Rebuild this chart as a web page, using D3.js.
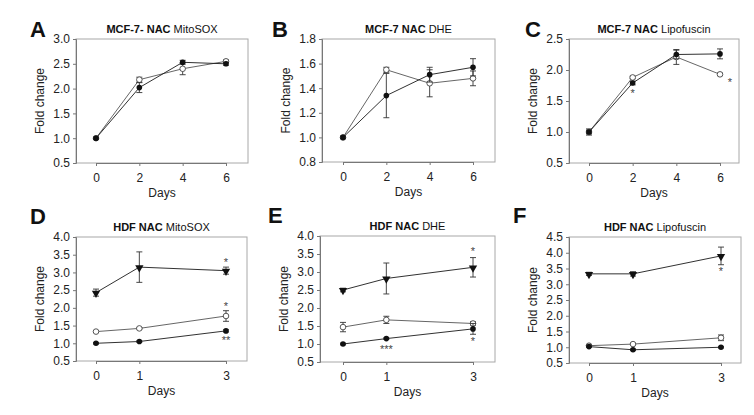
<!DOCTYPE html>
<html><head><meta charset="utf-8">
<script src="https://cdn.jsdelivr.net/npm/d3@7/dist/d3.min.js"></script>
<style>body{margin:0;background:#fff}svg{display:block}text{font-family:"Liberation Sans",Arial,sans-serif}</style>
</head><body><svg id="c" width="754" height="415"></svg>
<script>
// ---- data ----
const daysMCF = [0, 2, 4, 6];
const daysHDF = [0, 1, 3];

const aFilled = [1.0, 2.02, 2.53, 2.50], aFilledErr = [0.02, 0.10, 0.04, 0.03];
const aOpen   = [1.0, 2.18, 2.40, 2.55],  aOpenErr   = [0.02, 0.05, 0.12, 0.03];

const bFilled = [1.0, 1.34, 1.51, 1.57], bFilledErr = [0.01, 0.18, 0.06, 0.07];
const bOpen   = [1.0, 1.55, 1.44, 1.48], bOpenErr   = [0.01, 0.02, 0.11, 0.06];

const cFilled = [1.0, 1.79, 2.25, 2.26], cFilledErr = [0.03, 0.03, 0.07, 0.08];
const cOpen   = [1.0, 1.88, 2.21, 1.93], cOpenErr   = [0.05, 0.02, 0.12, 0.02];

const dTri    = [2.43, 3.15, 3.05], dTriErr    = [0.10, 0.43, 0.10];
const dOpen   = [1.33, 1.42, 1.77], dOpenErr   = [0.02, 0.02, 0.15];
const dFilled = [1.00, 1.05, 1.35], dFilledErr = [0.02, 0.02, 0.03];

const eTri    = [2.50, 2.82, 3.13], eTriErr    = [0.05, 0.43, 0.27];
const eOpen   = [1.47, 1.67, 1.57], eOpenErr   = [0.13, 0.10, 0.05];
const eFilled = [1.00, 1.15, 1.42], eFilledErr = [0.02, 0.02, 0.15];

const fTri    = [3.33, 3.33, 3.90], fTriErr    = [0.05, 0.07, 0.28];
const fOpen   = [1.05, 1.10, 1.30], fOpenErr   = [0.02, 0.02, 0.09];
const fFilled = [1.02, 0.92, 1.00], fFilledErr = [0.02, 0.02, 0.02];

// significance marks: [day, value, text]
const cStars = [[2, 1.65, "*"], [6, 1.82, "*"]];
const dStars = [[3, 3.33, "*"], [3, 2.08, "*"], [3, 1.12, "**"]];
const eStars = [[3, 3.62, "*"], [1, 0.88, "***"], [3, 1.12, "*"]];
const fStars = [[3, 3.45, "*"]];

const yTicksA = [0.5, 1.0, 1.5, 2.0, 2.5, 3.0];
const yTicksB = [0.8, 1.0, 1.2, 1.4, 1.6, 1.8];
const yTicksC = [0.5, 1.0, 1.5, 2.0, 2.5];
const yTicksDE = [0.5, 1.0, 1.5, 2.0, 2.5, 3.0, 3.5, 4.0];
const yTicksF = [0.5, 1.0, 1.5, 2.0, 2.5, 3.0, 3.5, 4.0, 4.5];

const panels = [
  {L:"A", lp:[30,37], t1:"MCF-7- NAC", t2:" MitoSOX", days:daysMCF, yt:yTicksA,
   box:[76,248,39,163], xr:[96,226], series:[["open",aOpen,aOpenErr],["filled",aFilled,aFilledErr]], stars:[]},
  {L:"B", lp:[272,37], t1:"MCF-7 NAC", t2:" DHE", days:daysMCF, yt:yTicksB,
   box:[322,495,39,162], xr:[343,473], series:[["open",bOpen,bOpenErr],["filled",bFilled,bFilledErr]], stars:[]},
  {L:"C", lp:[525,37], t1:"MCF-7 NAC", t2:" Lipofuscin", days:daysMCF, yt:yTicksC,
   box:[569,739,39,163], xr:[589,720], series:[["open",cOpen,cOpenErr],["filled",cFilled,cFilledErr]], stars:cStars},
  {L:"D", lp:[30,224], t1:"HDF NAC", t2:" MitoSOX", days:daysHDF, yt:yTicksDE,
   box:[76,247,237,361], xr:[96,226], series:[["tri",dTri,dTriErr],["open",dOpen,dOpenErr],["filled",dFilled,dFilledErr]], stars:dStars},
  {L:"E", lp:[268,223], t1:"HDF NAC", t2:" DHE", days:daysHDF, yt:yTicksDE,
   box:[320,495,236,362], xr:[343,473], series:[["tri",eTri,eTriErr],["open",eOpen,eOpenErr],["filled",eFilled,eFilledErr]], stars:eStars},
  {L:"F", lp:[513,223], t1:"HDF NAC", t2:" Lipofuscin", days:daysHDF, yt:yTicksF,
   box:[569,741,237,363], xr:[589,721], series:[["tri",fTri,fTriErr],["open",fOpen,fOpenErr],["filled",fFilled,fFilledErr]], stars:fStars}
];

const svg = d3.select("#c");

panels.forEach(p => {
  const [bl, br, bt, bb] = p.box;
  const x = d3.scaleLinear().domain([p.days[0], p.days[p.days.length-1]]).range(p.xr);
  const y = d3.scaleLinear().domain([p.yt[0], p.yt[p.yt.length-1]]).range([bb, bt]);
  const g = svg.append("g");

  // frame
  g.append("rect").attr("x", bl).attr("y", bt).attr("width", br-bl).attr("height", bb-bt)
    .attr("fill", "none").attr("stroke", "#a8a8a8").attr("stroke-width", 1);

  // axes
  const ya = d3.axisLeft(y).tickValues(p.yt).tickFormat(d3.format(".1f")).tickSize(3).tickPadding(3);
  const ga = g.append("g").attr("transform", `translate(${bl},0)`).call(ya);
  const xa = d3.axisBottom(x).tickValues(p.days).tickFormat(d3.format("d")).tickSize(3).tickPadding(7);
  const gx = g.append("g").attr("transform", `translate(0,${bb})`).call(xa);
  [ga, gx].forEach(a => {
    a.select(".domain").attr("stroke", "#777");
    a.selectAll(".tick line").attr("stroke", "#777");
    a.selectAll("text").attr("font-size", 12).attr("fill", "#222")
      .attr("font-family", '"Liberation Sans",Arial,sans-serif');
  });

  // axis labels
  g.append("text").attr("x", (bl+br)/2).attr("y", bb+34).attr("text-anchor", "middle")
    .attr("font-size", 12).attr("fill", "#222").text("Days");
  g.append("text").attr("transform", `translate(${bl-32},${(bt+bb)/2}) rotate(-90)`)
    .attr("text-anchor", "middle").attr("font-size", 12).attr("fill", "#222").text("Fold change");

  // title
  const tt = g.append("text").attr("x", (bl+br)/2).attr("y", bt-6).attr("text-anchor", "middle")
    .attr("font-size", 11).attr("fill", "#111");
  tt.append("tspan").attr("font-weight", "bold").text(p.t1);
  tt.append("tspan").text(p.t2);

  // panel letter
  g.append("text").attr("x", p.lp[0]).attr("y", p.lp[1]).attr("font-size", 22).attr("font-weight", "bold")
    .attr("fill", "#111").text(p.L);

  // series
  p.series.forEach(([kind, vals, errs]) => {
    const pts = p.days.map((d, i) => ({d, v: vals[i], e: errs[i]}));
    const col = kind === "open" ? "#555" : "#1a1a1a";
    g.append("path").datum(pts)
      .attr("d", d3.line().x(q => x(q.d)).y(q => y(q.v)))
      .attr("fill", "none").attr("stroke", col).attr("stroke-width", 0.9);
    const eg = g.append("g").attr("stroke", "#333").attr("stroke-width", 0.9);
    pts.forEach(q => {
      const cx = x(q.d);
      eg.append("line").attr("x1", cx).attr("x2", cx).attr("y1", y(q.v - q.e)).attr("y2", y(q.v + q.e));
      eg.append("line").attr("x1", cx-3).attr("x2", cx+3).attr("y1", y(q.v + q.e)).attr("y2", y(q.v + q.e));
      eg.append("line").attr("x1", cx-3).attr("x2", cx+3).attr("y1", y(q.v - q.e)).attr("y2", y(q.v - q.e));
    });
    pts.forEach(q => {
      const cx = x(q.d), cy = y(q.v);
      if (kind === "tri") {
        g.append("path").attr("d", d3.symbol(d3.symbolTriangle, 30)())
          .attr("transform", `translate(${cx},${cy+0.5}) rotate(180)`).attr("fill", "#111");
      } else if (kind === "open") {
        g.append("circle").attr("cx", cx).attr("cy", cy).attr("r", 2.8)
          .attr("fill", "#fff").attr("stroke", "#444").attr("stroke-width", 0.9);
      } else {
        g.append("circle").attr("cx", cx).attr("cy", cy).attr("r", 2.8).attr("fill", "#111");
      }
    });
  });

  // stars
  p.stars.forEach(([d, v, s]) => {
    g.append("text").attr("x", x(d) + (p.L === "C" && d === 6 ? 10 : 0)).attr("y", y(v) + 5)
      .attr("text-anchor", "middle").attr("font-size", 11).attr("fill", "#444").text(s);
  });
});
</script></body></html>
